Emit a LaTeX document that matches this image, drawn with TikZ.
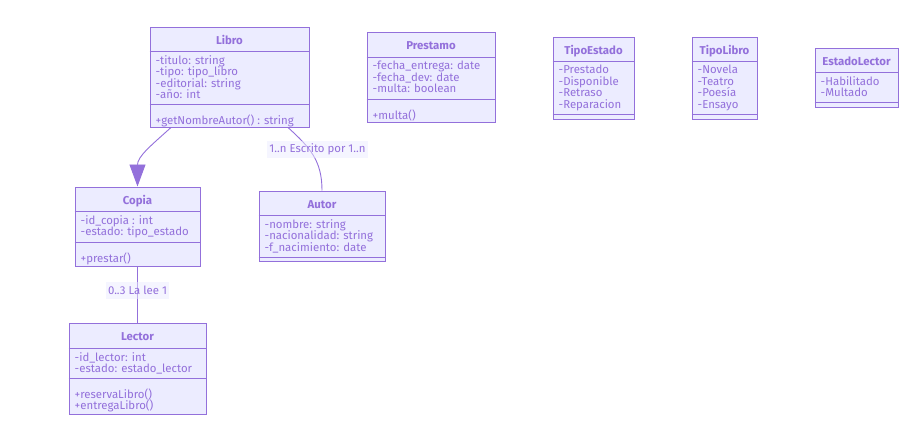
\documentclass[tikz,border=0pt]{standalone}
\usepackage{fontspec}
\setmainfont{Fira Sans}
\usetikzlibrary{arrows.meta, fit}

\definecolor{umlline}{HTML}{9370DB}
\definecolor{umlfill}{HTML}{ECECFF}
\definecolor{umltext}{HTML}{9370DB}

% #1 name, #2 top left, #3 bottom right, #4/#5 dividers, #6 title, #7 attributes, #8 methods
\newcommand{\umlclass}[8]{%
  \node[classbox, fit={(#2) (#3)}] (#1) {};
  \draw[classline] (#1.west |- 0,#4) -- (#1.east |- 0,#4);
  \draw[classline] (#1.west |- 0,#5) -- (#1.east |- 0,#5);
  \path (#1.north) -- (#1.north |- 0,#4) node[midway, classtitle] (#1-title) {#6};
  \node[classtext, anchor=north west] (#1-attr) at ([shift={(6,4)}]#1.west |- 0,#4) {#7};
  \node[classtext, anchor=north west] (#1-meth) at ([shift={(6,10.5)}]#1.west |- 0,#5) {#8};
}

\begin{document}
\begin{tikzpicture}[
            x=1pt, y=-1pt,
            classbox/.style = {draw=umlline, fill=umlfill, line width=1pt, inner sep=0pt},
            classline/.style = {draw=umlline, line width=1pt},
            classtitle/.style = {text=umltext, font=\fontsize{11.4}{11.5}\selectfont\bfseries, inner sep=0pt, text height=7.5pt, text depth=0pt, yshift=-1.5pt},
            classtext/.style = {text=umltext, font=\fontsize{11.4}{11.5}\selectfont, align=left, inner sep=0pt, execute at begin node=\strut},
            assoc/.style = {draw=umlline, line width=0.9pt},
            edgelabel/.style = {fill=umlfill, fill opacity=0.5, text opacity=1, text=umltext, font=\fontsize{11.4}{11.5}\selectfont, inner xsep=2pt, inner ysep=0pt, minimum height=17pt}
        ]
\useasboundingbox (0,0) rectangle (922,437);

\umlclass{libro}{150,27}{309,127}{51}{104}{Libro}
  {-titulo: string\\-tipo: tipo\_libro\\-editorial: string\\-año: int}
  {+getNombreAutor() : string}
\umlclass{prestamo}{367,32}{495,122}{57}{99}{Prestamo}
  {-fecha\_entrega: date\\-fecha\_dev: date\\-multa: boolean}
  {+multa()}
\umlclass{tipoestado}{553,37}{634,119}{61}{114}{TipoEstado}
  {-Prestado\\-Disponible\\-Retraso\\-Reparacion}{}
\umlclass{tipolibro}{692,37}{757,119}{61}{114}{TipoLibro}
  {-Novela\\-Teatro\\-Poesía\\-Ensayo}{}
\umlclass{estadolector}{815,48}{898,107}{72}{102}{EstadoLector}
  {-Habilitado\\-Multado}{}
\umlclass{copia}{75,187}{200,266}{211}{242}{Copia}
  {-id\_copia : int\\-estado: tipo\_estado}
  {+prestar()}
\umlclass{autor}{259,191}{385,261}{215}{257}{Autor}
  {-nombre: string\\-nacionalidad: string\\-f\_nacimiento: date}{}
\umlclass{lector}{69,323}{206,414}{348}{378}{Lector}
  {-id\_lector: int\\-estado: estado\_lector}
  {+reservaLibro()\\+entregaLibro()}

\draw[assoc, -{Triangle[width=16pt, length=22pt]}] ([xshift=-58.5pt]libro.south) .. controls +(-20,18) and +(0,-30) .. (copia.north);
\draw[assoc] ([xshift=58.5pt]libro.south) .. controls +(22,20) and +(0,-30) .. (autor.north);
\draw[assoc] (copia.south) -- (lector.north);

\node[edgelabel] (escrito) at (317.5,149.5) {1..n Escrito por 1..n};
\node[edgelabel] (lalee) at (137.5,290.5) {0..3 La lee 1};
\end{tikzpicture}
\end{document}
